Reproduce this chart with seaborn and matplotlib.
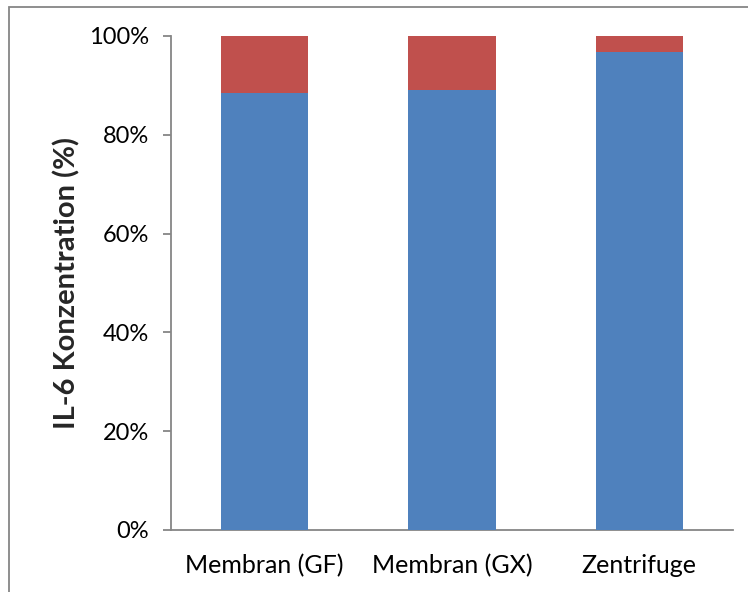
import matplotlib
matplotlib.use("Agg")
import matplotlib.pyplot as plt
from matplotlib.patches import Rectangle
from matplotlib.ticker import PercentFormatter
import seaborn as sns
import pandas as pd

# Share of IL-6 concentration per separation method (percent of total)
categories = ["Membran (GF)", "Membran (GX)", "Zentrifuge"]
series_blue = [88.4, 89.1, 96.8]
series_red = [11.6, 10.9, 3.2]
y_ticks = [0, 20, 40, 60, 80, 100]

BLUE = "#4F81BD"
RED = "#C0504D"
GRAY = "#868686"

sns.set_theme(style="white")
plt.rcParams["font.family"] = ["Lato", "DejaVu Sans"]

df = pd.DataFrame({
    "Methode": categories,
    "blue": series_blue,
    "total": [b + r for b, r in zip(series_blue, series_red)],
})

fig = plt.figure(figsize=(7.48, 5.92), dpi=100)
ax = fig.add_axes([171 / 748, 1 - 530 / 592, (733 - 171) / 748, (530 - 36) / 592])

# Stacked bars: the full stack in red, the lower segment in blue on top of it
sns.barplot(data=df, x="Methode", y="total", color=RED, width=0.465,
            saturation=1, ax=ax, zorder=2, linewidth=0)
sns.barplot(data=df, x="Methode", y="blue", color=BLUE, width=0.465,
            saturation=1, ax=ax, zorder=3, linewidth=0)

ax.set_ylim(0, 100)
ax.set_xlim(-0.5, len(categories) - 0.5)
ax.set_yticks(y_ticks)
ax.yaxis.set_major_formatter(PercentFormatter(decimals=0))
ax.set_xlabel("")
ax.set_ylabel("IL-6 Konzentration (%)", fontsize=21, fontweight="bold", labelpad=6)

for side in ("top", "right"):
    ax.spines[side].set_visible(False)
for side in ("left", "bottom"):
    ax.spines[side].set_color(GRAY)
    ax.spines[side].set_linewidth(1.3)

ax.tick_params(axis="y", which="major", left=True, length=6, width=1.3,
               color=GRAY, labelsize=17, pad=10, labelcolor="black")
ax.tick_params(axis="x", bottom=False, labelsize=18, pad=11, labelcolor="black")

# Chart area frame
fig.patches.append(Rectangle((9 / 748, -0.1), 1.2, 1 - 7 / 592 + 0.1,
                             transform=fig.transFigure, fill=False,
                             edgecolor=GRAY, linewidth=1.3))

fig.savefig("out.png", dpi=100)
